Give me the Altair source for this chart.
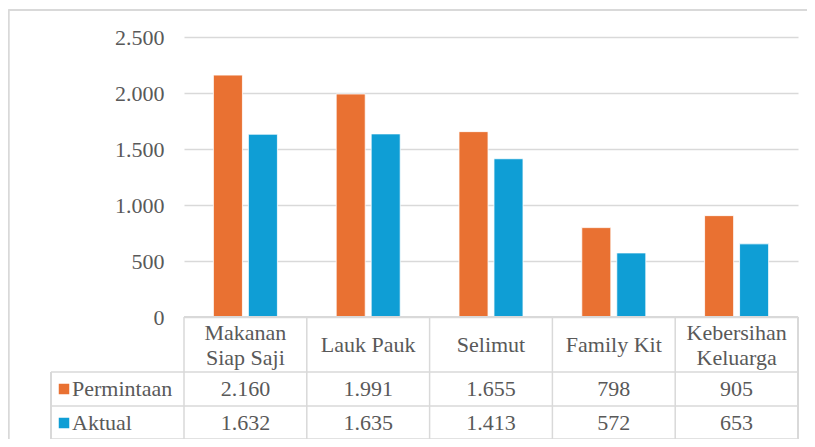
import altair as alt
import pandas as pd

categories = ["Makanan\nSiap Saji", "Lauk Pauk", "Selimut", "Family Kit", "Kebersihan\nKeluarga"]
series = ["Permintaan", "Aktual"]
permintaan = [2160, 1991, 1655, 798, 905]
aktual = [1632, 1635, 1413, 572, 653]
colors = ["#E97132", "#0F9ED5"]
y_ticks = [0, 500, 1000, 1500, 2000, 2500]

FONT = "Liberation Serif"
TXT = "#595959"
GRID = "#d9d9d9"
W, H = 614, 280

rows = []
for c, p, a in zip(categories, permintaan, aktual):
    rows.append({"cat": c, "series": series[0], "value": p})
    rows.append({"cat": c, "series": series[1], "value": a})
df = pd.DataFrame(rows)
cat_df = pd.DataFrame({"cat": categories})
cat_df["ny"] = [295.5 if "\n" in c else 308 for c in categories]
ser_df = pd.DataFrame({"series": series})

xscale = alt.Scale(domain=categories, paddingInner=0, paddingOuter=0)
cscale = alt.Scale(domain=series, range=colors)
fmt = "replace(format(datum.value, ','), ',', '.')"

bars = alt.Chart(df).mark_bar(stroke="white", strokeWidth=0.8).encode(
    x=alt.X("cat:N", scale=xscale, axis=None, sort=categories),
    xOffset=alt.XOffset("series:N", sort=series,
                        scale=alt.Scale(domain=series, paddingInner=0.17, paddingOuter=0.84)),
    y=alt.Y("value:Q", scale=alt.Scale(domain=[0, 2500], nice=False),
            axis=alt.Axis(values=y_ticks, labelExpr=fmt, title=None, domain=False, ticks=False,
                          grid=True, gridColor=GRID, gridWidth=1.5, labelFont=FONT,
                          labelFontSize=22, labelColor=TXT, labelPadding=20)),
    color=alt.Color("series:N", scale=cscale, legend=None),
)

# table grid lines
hline0 = alt.Chart(cat_df).mark_rule(color=GRID, strokeWidth=1.5).encode(
    x=alt.value(0), x2=alt.value(W), y=alt.value(H))
hlines = alt.Chart(pd.DataFrame({"yy": [335, 369, 402]})).mark_rule(color=GRID, strokeWidth=1.5).encode(
    x=alt.value(-133), x2=alt.value(W), y=alt.Y("yy:Q", scale=None))
vlines = alt.Chart(cat_df).mark_rule(color=GRID, strokeWidth=1.5).encode(
    x=alt.X("cat:N", scale=xscale, sort=categories, bandPosition=0, axis=None),
    y=alt.value(H), y2=alt.value(402))
vright = alt.Chart(cat_df).mark_rule(color=GRID, strokeWidth=1.5).encode(
    x=alt.value(W), y=alt.value(H), y2=alt.value(402))
vleft = alt.Chart(cat_df).mark_rule(color=GRID, strokeWidth=1.5).encode(
    x=alt.value(-133), y=alt.value(335), y2=alt.value(402))
border = alt.Chart(cat_df).mark_rule(color=GRID, strokeWidth=1.5).encode(
    x=alt.value(-175.5), y=alt.value(-27), y2=alt.value(408))
border_top = alt.Chart(cat_df).mark_rule(color=GRID, strokeWidth=1.5).encode(
    x=alt.value(-175.5), x2=alt.value(W + 20), y=alt.value(-27))

header = alt.Chart(cat_df).mark_text(font=FONT, fontSize=22, color=TXT, lineBreak="\n",
                                     lineHeight=25, baseline="middle").encode(
    x=alt.X("cat:N", scale=xscale, sort=categories, axis=None),
    y=alt.Y("ny:Q", scale=None), text="cat:N")

vals = alt.Chart(df).transform_calculate(
    label="replace(format(datum.value, ','), ',', '.')",
    ry="datum.series === 'Permintaan' ? 352 : 386",
).mark_text(font=FONT, fontSize=22, color=TXT, baseline="middle").encode(
    x=alt.X("cat:N", scale=xscale, sort=categories, axis=None),
    y=alt.Y("ry:Q", scale=None), text="label:N")

leg_sq = alt.Chart(ser_df).transform_calculate(
    ry="datum.series === 'Permintaan' ? 352 : 386").mark_square(size=110, opacity=1).encode(
    x=alt.value(-120), y=alt.Y("ry:Q", scale=None),
    color=alt.Color("series:N", scale=cscale, legend=None))
leg_txt = alt.Chart(ser_df).transform_calculate(
    ry="datum.series === 'Permintaan' ? 352 : 386").mark_text(
    font=FONT, fontSize=22, color=TXT, align="left", baseline="middle").encode(
    x=alt.value(-112), y=alt.Y("ry:Q", scale=None), text="series:N")

chart = alt.layer(
    border, border_top, bars, hline0, hlines, vlines, vright, vleft, header, vals, leg_sq, leg_txt
).properties(
    width=W, height=H,
    autosize=alt.AutoSizeParams(type="none"),
    padding={"left": 176, "top": 29, "right": 9, "bottom": 122},
).configure_view(stroke=None)

chart.save("out.html", embed_options={"renderer": "svg", "actions": False})
